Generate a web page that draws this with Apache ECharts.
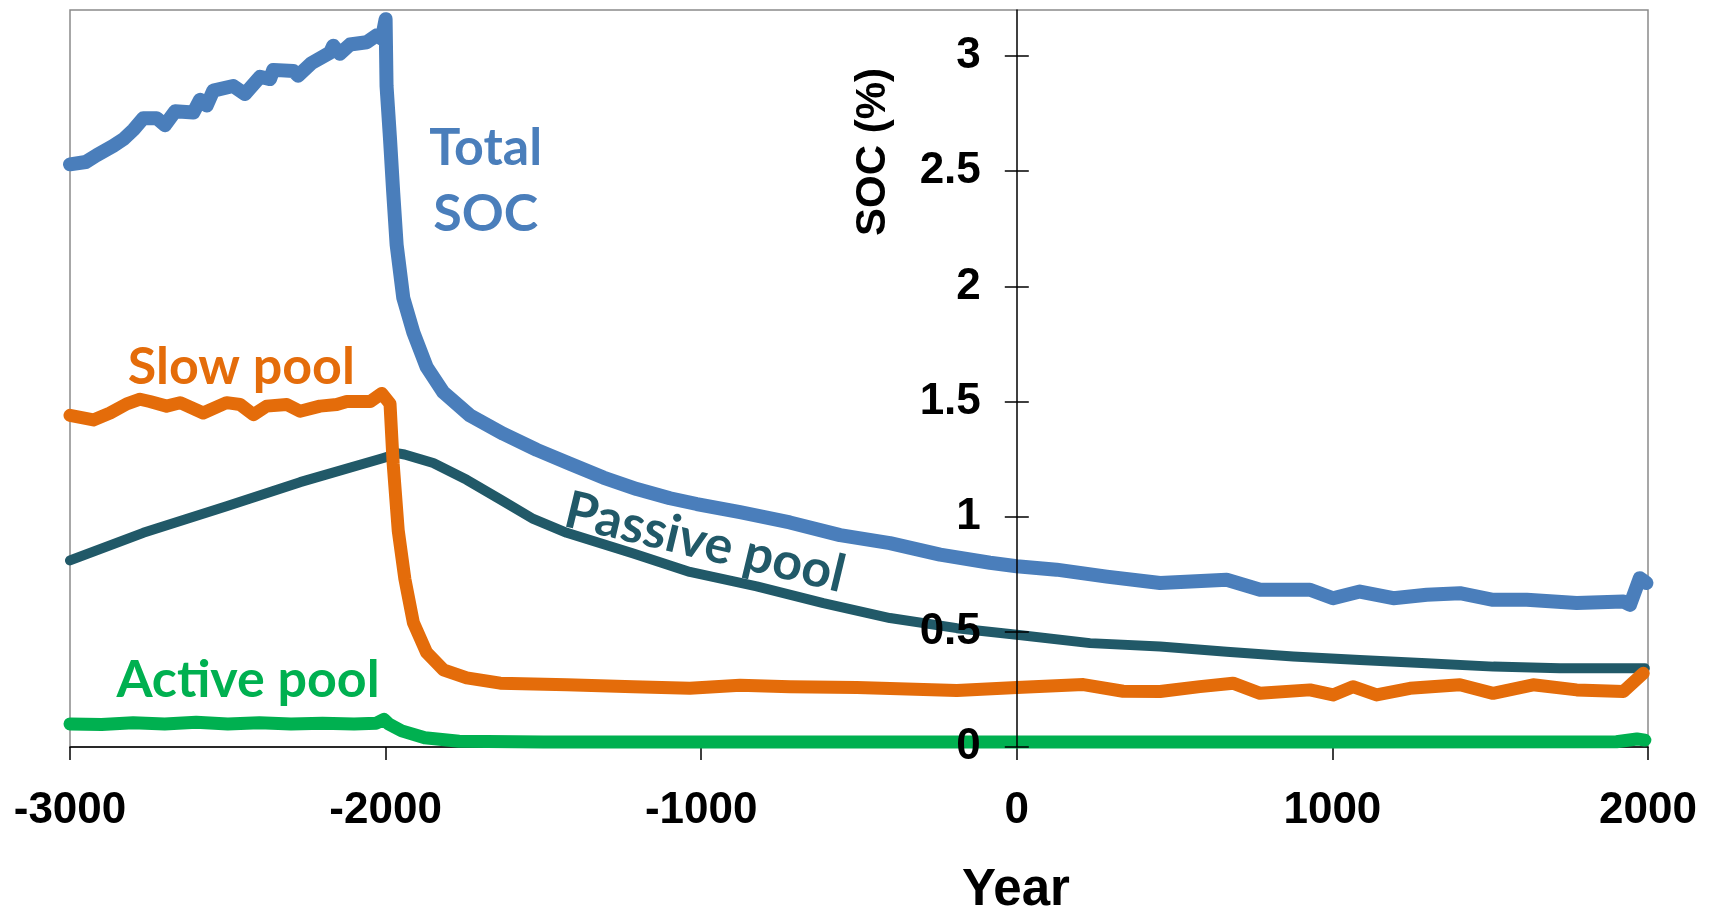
<!DOCTYPE html>
<html>
<head>
<meta charset="utf-8">
<title>SOC pools</title>
<script src="https://cdn.jsdelivr.net/npm/echarts@6/dist/echarts.min.js"></script>
<style>
  html, body { margin: 0; padding: 0; background: #fff; }
  #chart { width: 1713px; height: 916px; }
</style>
</head>
<body>
<div id="chart"></div>
<script>
// values
const totalYears = [-3000, -2950, -2915, -2863, -2830, -2799, -2768, -2725, -2699, -2667, -2609, -2588, -2567, -2546,
  -2483, -2446, -2398, -2366, -2356, -2292, -2277, -2234, -2176, -2166, -2145, -2113, -2060, -2028, -2012, -2000,
  -1997, -1986, -1976, -1965, -1944, -1912, -1870, -1817, -1733, -1627, -1521, -1416, -1310, -1204, -1099, -1014,
  -877, -719, -560, -402, -243, -85, 0, 126, 285, 454, 665, 771, 929, 1002, 1087, 1193, 1299, 1404, 1509, 1616,
  1774, 1922, 1943, 1974, 1995];
const totalSOC = [2.53, 2.54, 2.57, 2.61, 2.64, 2.68, 2.73, 2.73, 2.70, 2.76, 2.755, 2.81, 2.785, 2.85,
  2.87, 2.835, 2.91, 2.90, 2.94, 2.935, 2.915, 2.97, 3.015, 3.045, 3.01, 3.05, 3.06, 3.09, 3.075, 3.16,
  2.87, 2.64, 2.41, 2.18, 1.95, 1.80, 1.65, 1.54, 1.44, 1.36, 1.29, 1.23, 1.17, 1.12, 1.08, 1.055,
  1.02, 0.975, 0.92, 0.885, 0.835, 0.80, 0.785, 0.77, 0.74, 0.712, 0.726, 0.683, 0.683, 0.646, 0.675, 0.646, 0.661, 0.668, 0.639, 0.639,
  0.625, 0.632, 0.617, 0.733, 0.712];

const slowYears = [-3000, -2926, -2873, -2820, -2778, -2747, -2694, -2651, -2578, -2504, -2461, -2419, -2377, -2313,
  -2271, -2208, -2155, -2123, -2049, -2012, -1986, -1976, -1960, -1939, -1912, -1870, -1817, -1743, -1637, -1426,
  -1215, -1036, -877, -719, -507, -190, 0, 211, 337, 454, 580, 685, 771, 929, 1002, 1065, 1140, 1246, 1404, 1509,
  1636, 1774, 1922, 1985];
const slowPool = [1.44, 1.42, 1.45, 1.49, 1.51, 1.50, 1.48, 1.495, 1.45, 1.495, 1.487, 1.443, 1.48, 1.487,
  1.458, 1.48, 1.487, 1.50, 1.50, 1.535, 1.49, 1.23, 0.94, 0.73, 0.54, 0.41, 0.335, 0.30, 0.277, 0.27,
  0.262, 0.255, 0.268, 0.262, 0.258, 0.245, 0.258, 0.271, 0.242, 0.241, 0.262, 0.277, 0.233, 0.248, 0.226, 0.262, 0.226, 0.255, 0.27, 0.233,
  0.27, 0.248, 0.241, 0.32];

const passiveYears = [-3000, -2768, -2504, -2271, -2007, -1960, -1940, -1849, -1743, -1637, -1532, -1426, -1215,
  -1036, -824, -613, -402, -190, 0, 232, 454, 665, 876, 1087, 1299, 1510, 1721, 1990];
const passivePool = [0.81, 0.93, 1.045, 1.15, 1.255, 1.275, 1.27, 1.233, 1.16, 1.075, 0.99, 0.93, 0.84,
  0.76, 0.697, 0.625, 0.56, 0.516, 0.487, 0.451, 0.436, 0.414, 0.393, 0.378, 0.364, 0.349, 0.342, 0.342];

const activeYears = [-3000, -2900, -2800, -2700, -2600, -2500, -2400, -2300, -2200, -2100, -2030, -2005, -1990,
  -1949, -1876, -1767, -1500, -1000, 0, 1000, 1900, 1965, 1990];
const activePool = [0.10, 0.098, 0.105, 0.10, 0.107, 0.10, 0.105, 0.10, 0.103, 0.10, 0.103, 0.12, 0.10,
  0.07, 0.04, 0.025, 0.022, 0.022, 0.022, 0.022, 0.023, 0.035, 0.03];

const yTicks = [0, 0.5, 1, 1.5, 2, 2.5, 3];

// in-plot labels, placed in data coordinates
const labels = [
  { name: 'Total\nSOC', coord: [-1683, 2.457], color: '#4a7ebb', rotate: 0 },
  { name: 'Slow pool', coord: [-2457, 1.648], color: '#e46c0a', rotate: 0 },
  { name: 'Active pool', coord: [-2436, 0.291], color: '#00b050', rotate: 0 },
  { name: 'Passive pool', coord: [-988, 0.887], color: '#215968', rotate: -13.5 }
];

function pairs(xs, ys) {
  return xs.map((x, i) => [x, ys[i]]);
}

function lineSeries(name, xs, ys, color, width, label) {
  return {
    name: name,
    type: 'line',
    data: pairs(xs, ys),
    showSymbol: false,
    symbol: 'none',
    smooth: false,
    lineStyle: { color: color, width: width, cap: 'round', join: 'round' },
    markPoint: {
      symbol: 'circle',
      symbolSize: 0,
      silent: true,
      data: [{
        name: label.name,
        coord: label.coord,
        label: {
          show: true,
          position: 'inside',
          formatter: '{b}',
          color: label.color,
          fontFamily: 'Lato',
          fontWeight: 'bold',
          fontSize: 52,
          lineHeight: 66,
          align: 'center',
          verticalAlign: 'middle',
          rotate: label.rotate
        }
      }]
    }
  };
}

const axisFont = { color: '#000', fontFamily: '"Liberation Sans", Arial', fontWeight: 'bold', fontSize: 44 };
const black = { color: '#000', width: 1.5 };

const chart = echarts.init(document.getElementById('chart'));
chart.setOption({
  animation: false,
  backgroundColor: '#fff',
  grid: {
    left: 70, right: 65, top: 10, bottom: 169,
    outerBoundsMode: 'none', containLabel: false,
    show: true, borderColor: '#8a8a8a', borderWidth: 1.5, backgroundColor: 'transparent'
  },
  xAxis: {
    type: 'value', min: -3000, max: 2000, interval: 1000, position: 'bottom',
    axisLine: { show: true, onZero: false, lineStyle: black },
    axisTick: { show: true, length: 13, lineStyle: black },
    axisLabel: Object.assign({ margin: 42, formatter: v => String(v) }, axisFont),
    splitLine: { show: false }
  },
  yAxis: [{
    type: 'value', min: 0, max: 3.2, position: 'left', z: 5,
    axisLine: { show: true, onZero: false, lineStyle: black },
    axisTick: { show: true, length: 12, customValues: yTicks, lineStyle: black },
    axisLabel: Object.assign({ margin: 36, customValues: yTicks }, axisFont),
    splitLine: { show: false }
  }, {
    // same scale again, only for the half of each tick that points into the plot
    type: 'value', min: 0, max: 3.2, position: 'left', z: 5,
    axisLine: { show: false, onZero: false },
    axisTick: { show: true, inside: true, length: 12, customValues: yTicks, lineStyle: black },
    axisLabel: { show: false },
    splitLine: { show: false }
  }],
  series: [
    lineSeries('Passive pool', passiveYears, passivePool, '#215968', 10, labels[3]),
    lineSeries('Slow pool', slowYears, slowPool, '#e46c0a', 13, labels[1]),
    lineSeries('Active pool', activeYears, activePool, '#00b050', 13, labels[2]),
    lineSeries('Total SOC', totalYears, totalSOC, '#4a7ebb', 14, labels[0])
  ],
  graphic: [{
    type: 'text', x: 1016, y: 891,
    style: { text: 'Year', fill: '#000', font: 'bold 51px "Liberation Sans", Arial', align: 'center', verticalAlign: 'middle' }
  }, {
    type: 'text', x: 873, y: 152, rotation: Math.PI / 2,
    style: { text: 'SOC (%)', fill: '#000', font: 'bold 42px "Liberation Sans", Arial', align: 'center', verticalAlign: 'middle' }
  }]
});

// move the vertical axis over to year 0, as in the original figure
const zeroX = chart.convertToPixel({ xAxisIndex: 0 }, 0);
const leftX = chart.convertToPixel({ xAxisIndex: 0 }, -3000);
const shift = -(zeroX - leftX);
chart.setOption({ yAxis: [{ offset: shift }, { offset: shift }] });
</script>
</body>
</html>
